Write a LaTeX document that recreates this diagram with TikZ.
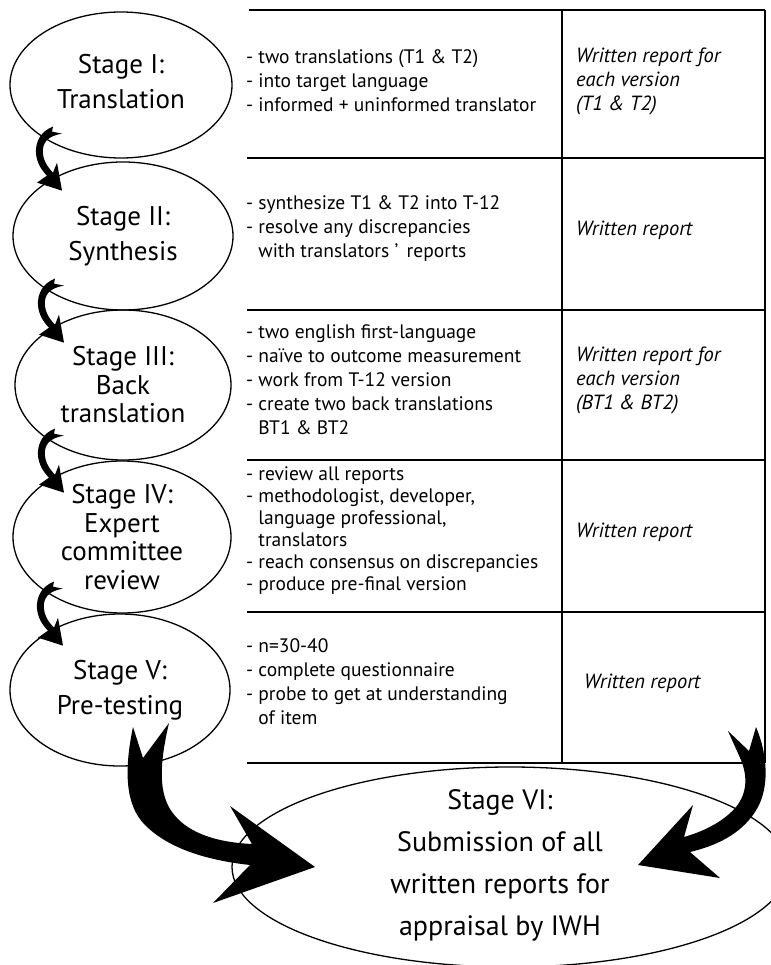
\documentclass[tikz,border=0pt]{standalone}
\usepackage{fontspec}
\setmainfont{PT Sans}
\usetikzlibrary{shapes.geometric,calc}
\tikzset{
  stage/.style={ellipse, draw=black, line width=1.3pt, inner sep=0pt},
  stagetxt/.style={align=center, inner sep=0pt, font=\fontsize{27}{35}\selectfont},
  stagetxtb/.style={align=center, inner sep=0pt, font=\fontsize{27}{28.5}\selectfont},
  finaltxt/.style={align=center, inner sep=0pt, font=\fontsize{28}{42}\selectfont},
  cell/.style={anchor=west, align=left, inner sep=0pt, font=\fontsize{19.5}{24}\selectfont},
  celltight/.style={anchor=west, align=left, inner sep=0pt, font=\fontsize{19.5}{22}\selectfont},
  rcell/.style={anchor=west, align=left, inner sep=0pt, font=\fontsize{20.5}{24}\selectfont\itshape},
  rule/.style={line width=2pt},
  bigarrow/.style={fill=black},
  smallarr/.pic={
    \fill[black] (-68,-32) .. controls (-79,-28) and (-86,-18) .. (-85,-5)
      .. controls (-84,5) and (-79,12) .. (-74,17) -- (-84,24) -- (-59,32)
      -- (-64,4) -- (-68,14) .. controls (-75,7) and (-79,-1) .. (-78,-10)
      .. controls (-77,-18) and (-71,-23) .. (-59,-25) -- (-69,-27) -- cycle;
  }
}
\begin{document}
\begin{tikzpicture}[x=1pt,y=-1pt]
\useasboundingbox (0,0) rectangle (770,965);
\fill[white] (0,0) rectangle (770,965);

% table rules
\coordinate (t0) at (249,10);
\coordinate (t1) at (247,158);
\coordinate (t2) at (247,310);
\coordinate (t3) at (247,460);
\coordinate (t4) at (247,612);
\coordinate (t5) at (247,763);
\coordinate (m0) at (562,10);
\coordinate (m5) at (562,763);
\coordinate (r0) at (765,10);
\coordinate (r5) at (765,763);
\foreach \c in {t0,t1,t2,t3,t4,t5}{\draw[rule] (\c) -- (\c -| r0);}
\draw[rule] (m0) -- (m5);
\draw[rule] (r0) -- (r5);

% middle column texts
\node[cell] (c1) at (246,81) {- two translations (T1 \& T2)\\- into target language\\- informed + uninformed translator};
\node[cell] (c2) at (246,229) {- synthesize T1 \& T2 into T-12\\- resolve any discrepancies\\\hphantom{- }with translators '\, reports};
\node[cell] (c3) at (246,380) {- two english first-language\\- naïve to outcome measurement\\- work from T-12 version\\- create two back translations\\\hphantom{- }BT1 \& BT2};
\node[celltight] (c4) at (246,531) {- review all reports\\- methodologist, developer,\\\hphantom{- }language professional,\\\hphantom{- }translators\\- reach consensus on discrepancies\\- produce pre-final version};
\node[cell] (c5) at (246,682) {- n=30-40\\- complete questionnaire\\- probe to get at understanding\\\hphantom{- }of item};

% right column texts
\node[rcell] (w1) at (576,81) {Written report for\\each version\\(T1 \& T2)};
\node[rcell] (w2) at (576,230) {Written report};
\node[rcell] (w3) at (576,380) {Written report for\\each version\\(BT1 \& BT2)};
\node[rcell] (w4) at (576,532) {Written report};
\node[rcell] (w5) at (584,683) {Written report};

% stage ellipses
\node[stage, minimum width=222pt, minimum height=146pt] (s1) at (121,85) {};
\node[stage, minimum width=220pt, minimum height=148pt] (s2) at (123,236) {};
\node[stage, minimum width=216pt, minimum height=150pt] (s3) at (123,385) {};
\node[stage, minimum width=218pt, minimum height=152pt] (s4) at (122,537) {};
\node[stage, minimum width=220pt, minimum height=152pt] (s5) at (120,690) {};
\node[stage, minimum width=556pt, minimum height=200pt] (s6) at (510,867) {};

\node[stagetxt] (s1t) at ($(s1.center)+(0,-3)$) {Stage I:\\Translation};
\node[stagetxt] (s2t) at (s2.center) {Stage II:\\Synthesis};
\node[stagetxtb] (s3t) at (s3.center) {Stage III:\\Back\\translation};
\node[stagetxtb] (s4t) at (s4.center) {Stage IV:\\Expert\\committee\\review};
\node[stagetxt] (s5t) at (s5.center) {Stage V:\\Pre-testing};
\node[finaltxt] (s6t) at (500,865) {Stage VI:\\Submission of all\\written reports for\\appraisal by IWH};

% small arrows between stages
\pic at (s1.south) {smallarr};
\pic at (s2.south) {smallarr};
\pic at (s3.south) {smallarr};
\pic at (s4.south) {smallarr};

% big arrow from Stage V to Stage VI
\fill[bigarrow] (133,727) .. controls (124,770) and (125,805) .. (145,825)
  .. controls (168,848) and (205,860) .. (250,865) -- (213,903) -- (315,867)
  -- (230,806) -- (252,844) .. controls (210,842) and (185,830) .. (172,812)
  .. controls (160,795) and (158,770) .. (169,723) -- (143,758) -- cycle;

% big arrow from the table to Stage VI
\fill[bigarrow] (728,731) -- (749,751) -- (756,727)
  .. controls (768,755) and (770,790) .. (755,812)
  .. controls (740,835) and (715,846) .. (690,852) -- (720,878) -- (638,865)
  -- (693,805) -- (684,837) .. controls (705,831) and (724,821) .. (736,807)
  .. controls (748,792) and (747,775) .. (741,760) -- cycle;
\end{tikzpicture}
\end{document}
